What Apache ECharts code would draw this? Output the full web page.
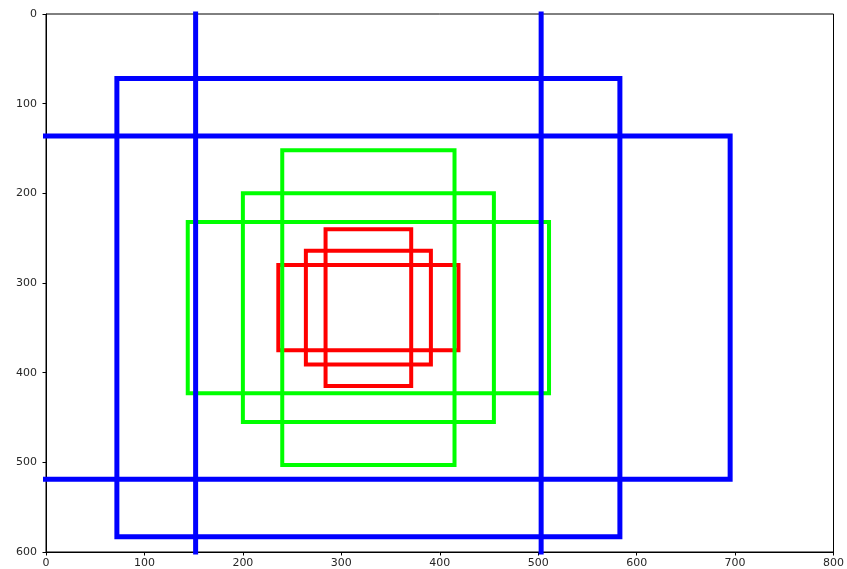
<!DOCTYPE html>
<html>
<head>
<meta charset="utf-8">
<script src="https://cdn.jsdelivr.net/npm/echarts@6/dist/echarts.min.js"></script>
<style>
html,body{margin:0;padding:0;background:#fff;overflow:hidden;}
#chart{width:847px;height:569px;}
</style>
</head>
<body>
<div id="chart"></div>
<script>
// Anchor boxes (x1, y1, x2, y2)
const boxX1 = [236, 144, -40, 264, 200, 72, 284, 240, 152];
const boxY1 = [280, 232, 136, 264, 200, 72, 240, 152, -24];
const boxX2 = [419, 511, 695, 391, 455, 583, 371, 415, 503];
const boxY2 = [375, 423, 519, 391, 455, 583, 415, 503, 679];
const boxScale = ['s8', 's16', 's32', 's8', 's16', 's32', 's8', 's16', 's32'];
const xTicks = [0, 100, 200, 300, 400, 500, 600, 700, 800];
const yTicks = [0, 100, 200, 300, 400, 500, 600];

const scaleColor = { s8: '#ff0000', s16: '#00ff00', s32: '#0000ff' };
const scaleWidth = { s8: 4, s16: 4, s32: 5 };

const series = boxX1.map((x1, i) => {
  const y1 = boxY1[i], x2 = boxX2[i], y2 = boxY2[i];
  return {
    type: 'line',
    data: [[x1, y1], [x2, y1], [x2, y2], [x1, y2], [x1, y1], [x2, y1]],
    showSymbol: false,
    symbol: 'none',
    clip: true,
    silent: true,
    animation: false,
    z: 2 + i,
    lineStyle: { color: scaleColor[boxScale[i]], width: scaleWidth[boxScale[i]], join: 'miter' }
  };
});

const font = { fontFamily: 'DejaVu Sans', fontSize: 11, color: '#262626' };

const chart = echarts.init(document.getElementById('chart'), null, { renderer: 'canvas', width: 847, height: 569 });
chart.setOption({
  animation: false,
  backgroundColor: '#fff',
  grid: { left: 46, right: 10, top: 14, bottom: 17, show: true, borderColor: '#000', borderWidth: 1, backgroundColor: 'transparent', containLabel: false },
  xAxis: {
    type: 'value', position: 'bottom', min: xTicks[0], max: xTicks[xTicks.length - 1], interval: 100,
    axisLine: { show: true, onZero: false, lineStyle: { color: '#000', width: 1 } },
    axisTick: { show: true, length: 3.5, lineStyle: { color: '#000' } },
    axisLabel: Object.assign({ margin: 6 }, font),
    splitLine: { show: false }
  },
  yAxis: {
    type: 'value', position: 'left', inverse: true, min: yTicks[0], max: yTicks[yTicks.length - 1], interval: 100,
    axisLine: { show: true, onZero: false, lineStyle: { color: '#000', width: 1 } },
    axisTick: { show: true, length: 3.5, lineStyle: { color: '#000' } },
    axisLabel: Object.assign({ margin: 9 }, font),
    splitLine: { show: false }
  },
  series: series
});
</script>
</body>
</html>
